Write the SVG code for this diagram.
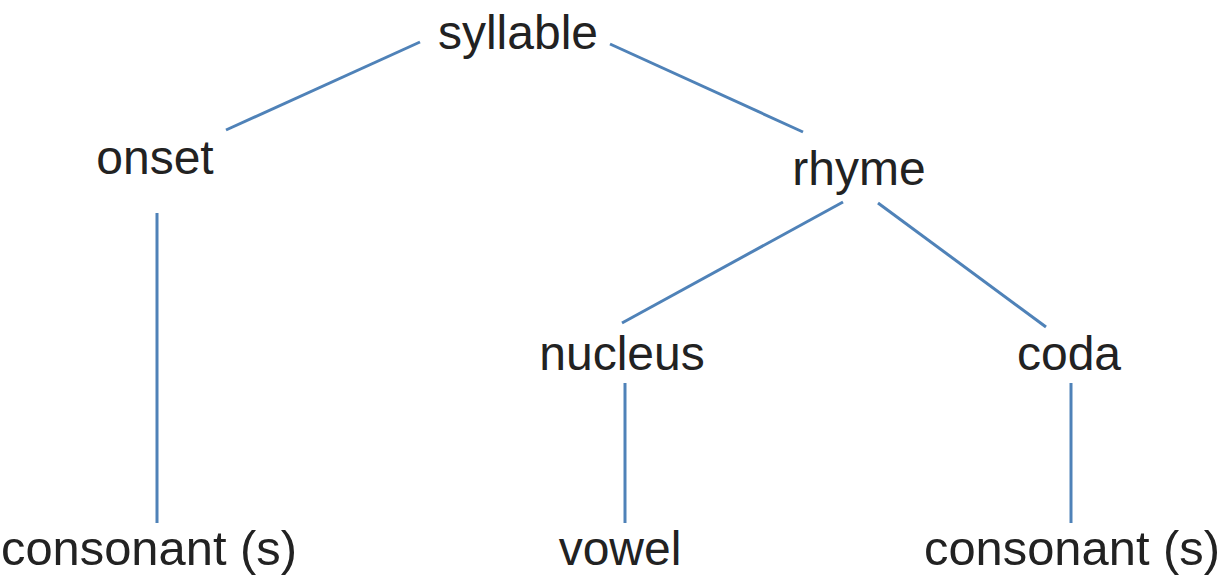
<svg xmlns="http://www.w3.org/2000/svg" width="1225" height="576" viewBox="0 0 1225 576">
<style>
text{font-family:"Liberation Sans",Arial,sans-serif;font-size:48px;fill:#222;text-anchor:middle}
.e line{stroke:#4f82b8;stroke-width:3;stroke-linecap:butt}
</style>
<rect width="1225" height="576" fill="#fff"/>
<g class="e" id="connectors">
<line x1="420" y1="42" x2="226" y2="130"/>
<line x1="610" y1="44" x2="803" y2="132"/>
<line x1="843" y1="202" x2="622" y2="323"/>
<line x1="878" y1="203" x2="1046" y2="327"/>
<line x1="157" y1="213" x2="157" y2="523"/>
<line x1="625" y1="383" x2="625" y2="523"/>
<line x1="1071" y1="383" x2="1071" y2="523"/>
</g>
<g id="syllable"><text x="518" y="49">syllable</text></g>
<g id="onset"><text x="155" y="174">onset</text></g>
<g id="rhyme"><text x="859" y="185">rhyme</text></g>
<g id="nucleus"><text x="622" y="370">nucleus</text></g>
<g id="coda"><text x="1069" y="370">coda</text></g>
<g id="consonant1"><text x="149" y="565" textLength="296" lengthAdjust="spacingAndGlyphs">consonant (s)</text></g>
<g id="vowel"><text x="620" y="565">vowel</text></g>
<g id="consonant2"><text x="1072" y="565" textLength="296" lengthAdjust="spacingAndGlyphs">consonant (s)</text></g>
</svg>
